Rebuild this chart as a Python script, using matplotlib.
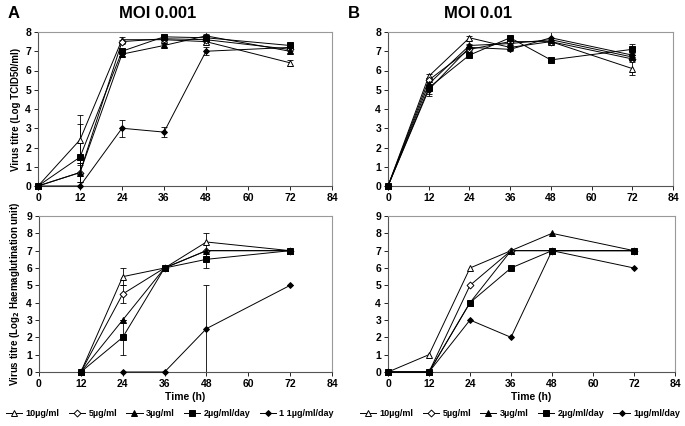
import matplotlib
matplotlib.use("Agg")
import matplotlib.pyplot as plt
import numpy as np

plt.rcParams['font.family'] = ['Liberation Sans', 'DejaVu Sans']
plt.rcParams['font.weight'] = 'bold'

hours = [0, 12, 24, 36, 48, 72]
labels = ["10µg/ml", "5µg/ml", "3µg/ml", "2µg/ml/day", "1µg/ml/day"]

# Panel A top: TCID50, MOI 0.001
a_top = {
    "10": [0, 2.4, 7.6, 7.6, 7.5, 6.4],
    "5": [0, 0.7, 7.5, 7.65, 7.6, 7.1],
    "3": [0, 0.7, 6.85, 7.3, 7.8, 7.0],
    "2": [0, 1.5, 7.0, 7.75, 7.7, 7.3],
    "1": [0, 0, 3.0, 2.8, 7.0, 7.2],
}
a_top_err = {
    "10": [0, 1.3, 0.15, 0.1, 0.1, 0.15],
    "5": [0, 0.5, 0.1, 0.1, 0.1, 0.1],
    "3": [0, 0.5, 0.1, 0.1, 0.1, 0.1],
    "2": [0, 1.7, 0.1, 0.1, 0.1, 0.1],
    "1": [0, 0, 0.45, 0.25, 0.2, 0.1],
}
# Panel B top: TCID50, MOI 0.01
b_top = {
    "10": [0, 5.7, 7.7, 7.2, 7.5, 6.1],
    "5": [0, 5.5, 7.1, 7.5, 7.5, 6.6],
    "3": [0, 5.3, 7.3, 7.4, 7.6, 6.7],
    "2": [0, 5.1, 6.8, 7.7, 6.55, 7.1],
    "1": [0, 5.0, 7.2, 7.1, 7.7, 6.8],
}
b_top_err = {
    "10": [0, 0.1, 0.1, 0.1, 0.1, 0.35],
    "5": [0, 0.1, 0.1, 0.1, 0.1, 0.1],
    "3": [0, 0.1, 0.1, 0.1, 0.1, 0.1],
    "2": [0, 0.3, 0.1, 0.1, 0.1, 0.3],
    "1": [0, 0.3, 0.1, 0.1, 0.3, 0.1],
}
# Panel A bottom: HA, MOI 0.001 (starts at 12 h)
ha_hours = [12, 24, 36, 48, 72]
a_bot = {
    "10": [0, 5.5, 6, 7.5, 7],
    "5": [0, 4.5, 6, 7, 7],
    "3": [0, 3, 6, 7, 7],
    "2": [0, 2, 6, 6.5, 7],
    "1": [None, 0, 0, 2.5, 5],
}
a_bot_err = {
    "10": [0, 0.5, 0, 0.5, 0],
    "5": [0, 0.5, 0, 0, 0],
    "3": [0, 0, 0, 0, 0],
    "2": [0, 1.0, 0, 0.5, 0],
    "1": [0, 0, 0, 2.5, 0],
}
# Panel B bottom: HA, MOI 0.01
b_bot = {
    "10": [0, 1, 6, 7, 7, 7],
    "5": [0, 0, 5, 7, 7, 7],
    "3": [0, 0, 4, 7, 8, 7],
    "2": [0, 0, 4, 6, 7, 7],
    "1": [0, 0, 3, 2, 7, 6],
}

keys = ["10", "5", "3", "2", "1"]
styles = {
    "10": dict(marker="^", mfc="white", ms=4.5),
    "5": dict(marker="D", mfc="white", ms=3.5),
    "3": dict(marker="^", mfc="black", ms=4.5),
    "2": dict(marker="s", mfc="black", ms=4),
    "1": dict(marker="D", mfc="black", ms=3),
}

fig = plt.figure(figsize=(6.85, 4.26), dpi=100)
W, H = 685, 426

def make_ax(l, r, t, b):
    return fig.add_axes([l / W, 1 - b / H, (r - l) / W, (b - t) / H])

ax1 = make_ax(38, 332, 32, 186)
ax2 = make_ax(388, 673, 32, 186)
ax3 = make_ax(39, 332, 216, 372)
ax4 = make_ax(388, 675, 216, 372)

def style_ax(ax, ymax):
    ax.set_xlim(0, 84)
    ax.set_ylim(0, ymax)
    ax.set_xticks(range(0, 85, 12))
    ax.set_yticks(range(0, ymax + 1))
    for s in ["top", "right"]:
        ax.spines[s].set_color("#999999")
        ax.spines[s].set_linewidth(0.8)
    for s in ["left", "bottom"]:
        ax.spines[s].set_color("#555555")
        ax.spines[s].set_linewidth(0.8)
    ax.tick_params(labelsize=7.5, length=3, width=0.6, pad=2)
    for lab in ax.get_xticklabels() + ax.get_yticklabels():
        lab.set_fontweight("bold")

def plot_series(ax, x, data, err=None):
    handles = []
    for k in keys:
        xs = [xx for xx, v in zip(x, data[k]) if v is not None]
        ys = [v for v in data[k] if v is not None]
        st = styles[k]
        h, = ax.plot(xs, ys, color="black", lw=0.7, marker=st["marker"],
                     mfc=st["mfc"], mec="black", ms=st["ms"], mew=0.7,
                     clip_on=False, zorder=3)
        if err is not None:
            es = [e for e, v in zip(err[k], data[k]) if v is not None]
            ax.errorbar(xs, ys, yerr=es, fmt="none", ecolor="black",
                        elinewidth=0.6, capsize=2, capthick=0.6, zorder=2)
        handles.append(h)
    return handles

plot_series(ax1, hours, a_top, a_top_err)
plot_series(ax2, hours, b_top, b_top_err)
h3 = plot_series(ax3, ha_hours, a_bot, a_bot_err)
h4 = plot_series(ax4, hours, b_bot)

style_ax(ax1, 8)
style_ax(ax2, 8)
style_ax(ax3, 9)
style_ax(ax4, 9)

ax1.set_ylabel("Virus titre (Log TCID50/ml)", fontsize=7, fontweight="bold", labelpad=3)
ax3.set_ylabel("Virus titre (Log$_\\mathbf{2}$ Haemaglutination unit)", fontsize=7,
               fontweight="bold", labelpad=3)
ax3.set_xlabel("Time (h)", fontsize=7.5, fontweight="bold", labelpad=2)
ax4.set_xlabel("Time (h)", fontsize=7.5, fontweight="bold", labelpad=2)

fig.text(8 / W, 1 - 14 / H, "A", fontsize=12, fontweight="bold", va="center")
fig.text(158 / W, 1 - 14 / H, "MOI 0.001", fontsize=12, fontweight="bold", va="center", ha="center")
fig.text(348 / W, 1 - 14 / H, "B", fontsize=12, fontweight="bold", va="center")
fig.text(478 / W, 1 - 14 / H, "MOI 0.01", fontsize=12, fontweight="bold", va="center", ha="center")

left_labels = labels[:4] + ["1 1µg/ml/day"]
leg_kw = dict(ncol=5, frameon=False, handlelength=1.8, columnspacing=1.0,
              handletextpad=0.4, borderpad=0, borderaxespad=0,
              prop=dict(weight="bold", size=6.5))
fig.legend(h3, left_labels, loc="center", bbox_to_anchor=(170 / W, 1 - 414 / H), **leg_kw)
fig.legend(h4, labels, loc="center", bbox_to_anchor=(520 / W, 1 - 414 / H), **leg_kw)

fig.savefig("out.png", dpi=100)
